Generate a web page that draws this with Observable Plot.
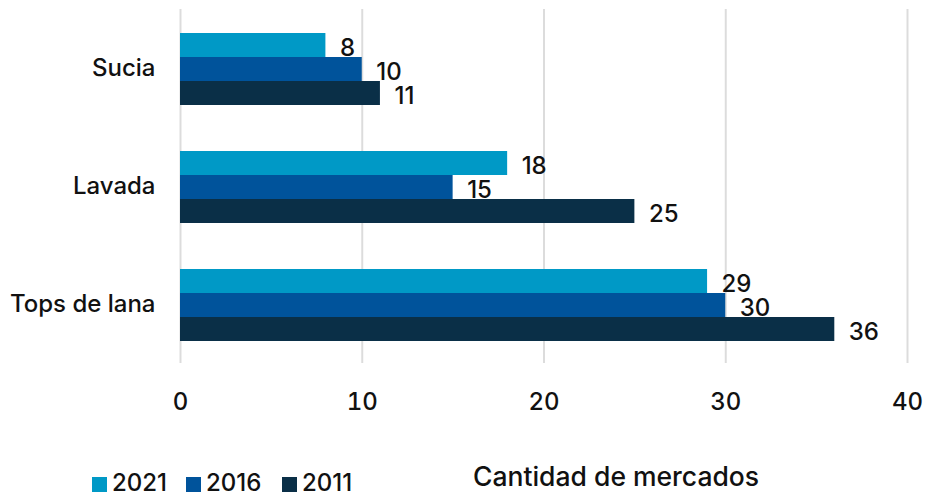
<!DOCTYPE html>
<html>
<head>
<meta charset="utf-8">
<script src="https://cdn.jsdelivr.net/npm/d3@7"></script>
<script src="https://cdn.jsdelivr.net/npm/@observablehq/plot@0.6"></script>
<style>
  html, body { margin: 0; padding: 0; background: #fff; }
  #wrap { position: relative; width: 927px; height: 498px; font-family: Inter, "Noto Sans", sans-serif; color: #111; font-weight: 500; }
  .item { position: absolute; top: 468px; display: flex; align-items: center; font-size: 24px; line-height: 30px; }
  .sw { width: 15px; height: 15px; margin-right: 5px; margin-top: 2px; }
  #xtitle { position: absolute; left: 473px; top: 461px; font-size: 26.5px; line-height: 30px; white-space: nowrap; }
</style>
</head>
<body>
<div id="wrap">
  <div id="chart"></div>
  <div id="legend"></div>
  <div id="xtitle"></div>
</div>
<script>
const categories = ["Sucia", "Lavada", "Tops de lana"];
const years = ["2021", "2016", "2011"];
const values2021 = [8, 18, 29];
const values2016 = [10, 15, 30];
const values2011 = [11, 25, 36];
const xTicks = [0, 10, 20, 30, 40];
const colors = ["#0099c6", "#00539b", "#0a2f47"];
const xTitle = "Cantidad de mercados";

const series = [values2021, values2016, values2011];
const data = [];
categories.forEach((c, i) => {
  years.forEach((y, j) => data.push({category: c, year: y, value: series[j][i]}));
});

const chart = Plot.plot({
  width: 927,
  height: 430,
  marginTop: 9,
  marginBottom: 67,
  marginLeft: 180,
  marginRight: 20,
  style: {fontFamily: "Inter, 'Noto Sans', sans-serif", fontSize: "24px", fontWeight: 500, color: "#111", background: "#fff"},
  x: {domain: [0, 40], ticks: xTicks, tickSize: 0, tickPadding: 29, label: null},
  y: {domain: years, axis: null, padding: 0, insetTop: 23, insetBottom: 22},
  fy: {domain: categories, padding: 0, tickSize: 0, tickPadding: 25, label: null},
  color: {domain: years, range: colors},
  marks: [
    Plot.gridX(xTicks, {stroke: "#dcdcdc", strokeOpacity: 1, strokeWidth: 2}),
    Plot.barX(data, {x: "value", y: "year", fy: "category", fill: "year"}),
    Plot.text(data, {x: "value", y: "year", fy: "category", text: d => String(d.value), textAnchor: "start", dx: 14, dy: 3, fill: "#111", fontSize: 24, fontWeight: 500})
  ]
});
document.getElementById("chart").appendChild(chart);

const legend = document.getElementById("legend");
const legendLeft = [92, 186, 282];
years.forEach((y, i) => {
  const it = document.createElement("div");
  it.className = "item";
  it.style.left = legendLeft[i] + "px";
  const sw = document.createElement("div");
  sw.className = "sw";
  sw.style.background = colors[i];
  const lab = document.createElement("span");
  lab.textContent = y;
  it.appendChild(sw); it.appendChild(lab);
  legend.appendChild(it);
});
document.getElementById("xtitle").textContent = xTitle;
</script>
</body>
</html>
